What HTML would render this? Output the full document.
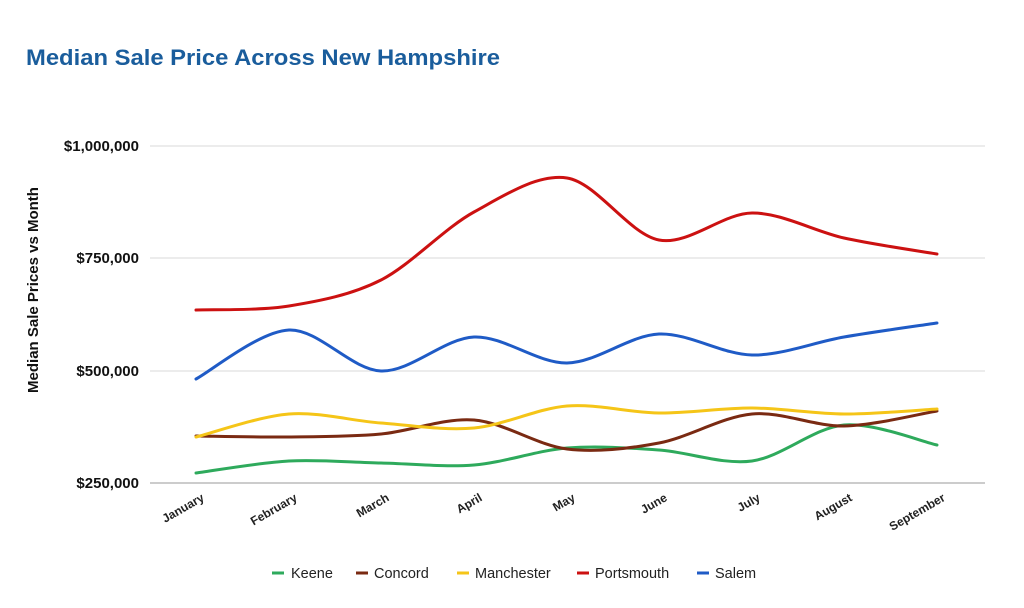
<!DOCTYPE html>
<html><head><meta charset="utf-8"><style>
body{margin:0;background:#fff;}
svg text{font-family:"Liberation Sans",Arial,sans-serif;}
</style></head><body>
<svg width="1024" height="603" xmlns="http://www.w3.org/2000/svg">
<rect width="1024" height="603" fill="#fff"/>
<text x="26" y="65" font-size="22" font-weight="bold" fill="#1a5d9c" textLength="474" lengthAdjust="spacingAndGlyphs">Median Sale Price Across New Hampshire</text>
<g stroke="#d9d9d9" stroke-width="1">
<line x1="150" y1="146" x2="985" y2="146"/>
<line x1="150" y1="258" x2="985" y2="258"/>
<line x1="150" y1="371" x2="985" y2="371"/>
</g>
<line x1="150" y1="483" x2="985" y2="483" stroke="#999" stroke-width="1"/>
<g font-size="15" font-weight="bold" text-anchor="end" fill="#111">
<text x="139" y="151">$1,000,000</text>
<text x="139" y="263">$750,000</text>
<text x="139" y="376">$500,000</text>
<text x="139" y="488">$250,000</text>
</g>
<text transform="translate(38,290) rotate(-90)" font-size="15" font-weight="bold" text-anchor="middle" fill="#111">Median Sale Prices vs Month</text>
<g font-size="12" font-weight="bold" text-anchor="end" fill="#222">
<text transform="translate(205,500) rotate(-30)">January</text>
<text transform="translate(298,500) rotate(-30)">February</text>
<text transform="translate(390,500) rotate(-30)">March</text>
<text transform="translate(483,500) rotate(-30)">April</text>
<text transform="translate(576,500) rotate(-30)">May</text>
<text transform="translate(668,500) rotate(-30)">June</text>
<text transform="translate(761,500) rotate(-30)">July</text>
<text transform="translate(853,500) rotate(-30)">August</text>
<text transform="translate(946,500) rotate(-30)">September</text>
</g>
<g fill="none" stroke-width="3" stroke-linecap="round" stroke-linejoin="round" id="lines"></g>
<g font-size="14.5" fill="#222">
<line x1="272" y1="573" x2="284" y2="573" stroke="#2eaa5c" stroke-width="3"/><text x="291" y="578">Keene</text>
<line x1="356" y1="573" x2="368" y2="573" stroke="#7a2a12" stroke-width="3"/><text x="374" y="578">Concord</text>
<line x1="457" y1="573" x2="469" y2="573" stroke="#f5c518" stroke-width="3"/><text x="475" y="578">Manchester</text>
<line x1="577" y1="573" x2="589" y2="573" stroke="#cc1111" stroke-width="3"/><text x="595" y="578">Portsmouth</text>
<line x1="697" y1="573" x2="709" y2="573" stroke="#1f5bc6" stroke-width="3"/><text x="715" y="578">Salem</text>
</g>
<script>
var xs=[196,289,381,474,567,659,752,844,937];
var series=[
["#2eaa5c",[473,461,463,465,448,450,461,425,445]],
["#7a2a12",[436,437,434,420,449,443,414,426,411]],
["#f5c518",[437,414,423,428,406,413,408,414,409]],
["#cc1111",[310,306,280,212,178,240,213,238,254]],
["#1f5bc6",[379,330,371,337,363,334,355,337,323]]];
var g=document.getElementById('lines');
series.forEach(function(s){
var y=s[1],d="M"+xs[0]+","+y[0];
for(var i=0;i<8;i++){
var p0=[xs[Math.max(i-1,0)],y[Math.max(i-1,0)]],p1=[xs[i],y[i]],p2=[xs[i+1],y[i+1]],p3=[xs[Math.min(i+2,8)],y[Math.min(i+2,8)]];
var t=0.16;
var c1=[p1[0]+(p2[0]-p0[0])*t,p1[1]+(p2[1]-p0[1])*t];
var c2=[p2[0]-(p3[0]-p1[0])*t,p2[1]-(p3[1]-p1[1])*t];
d+=" C"+c1+" "+c2+" "+p2;}
var p=document.createElementNS("http://www.w3.org/2000/svg","path");
p.setAttribute("d",d);p.setAttribute("stroke",s[0]);g.appendChild(p);});
</script>
</svg>
</body></html>
